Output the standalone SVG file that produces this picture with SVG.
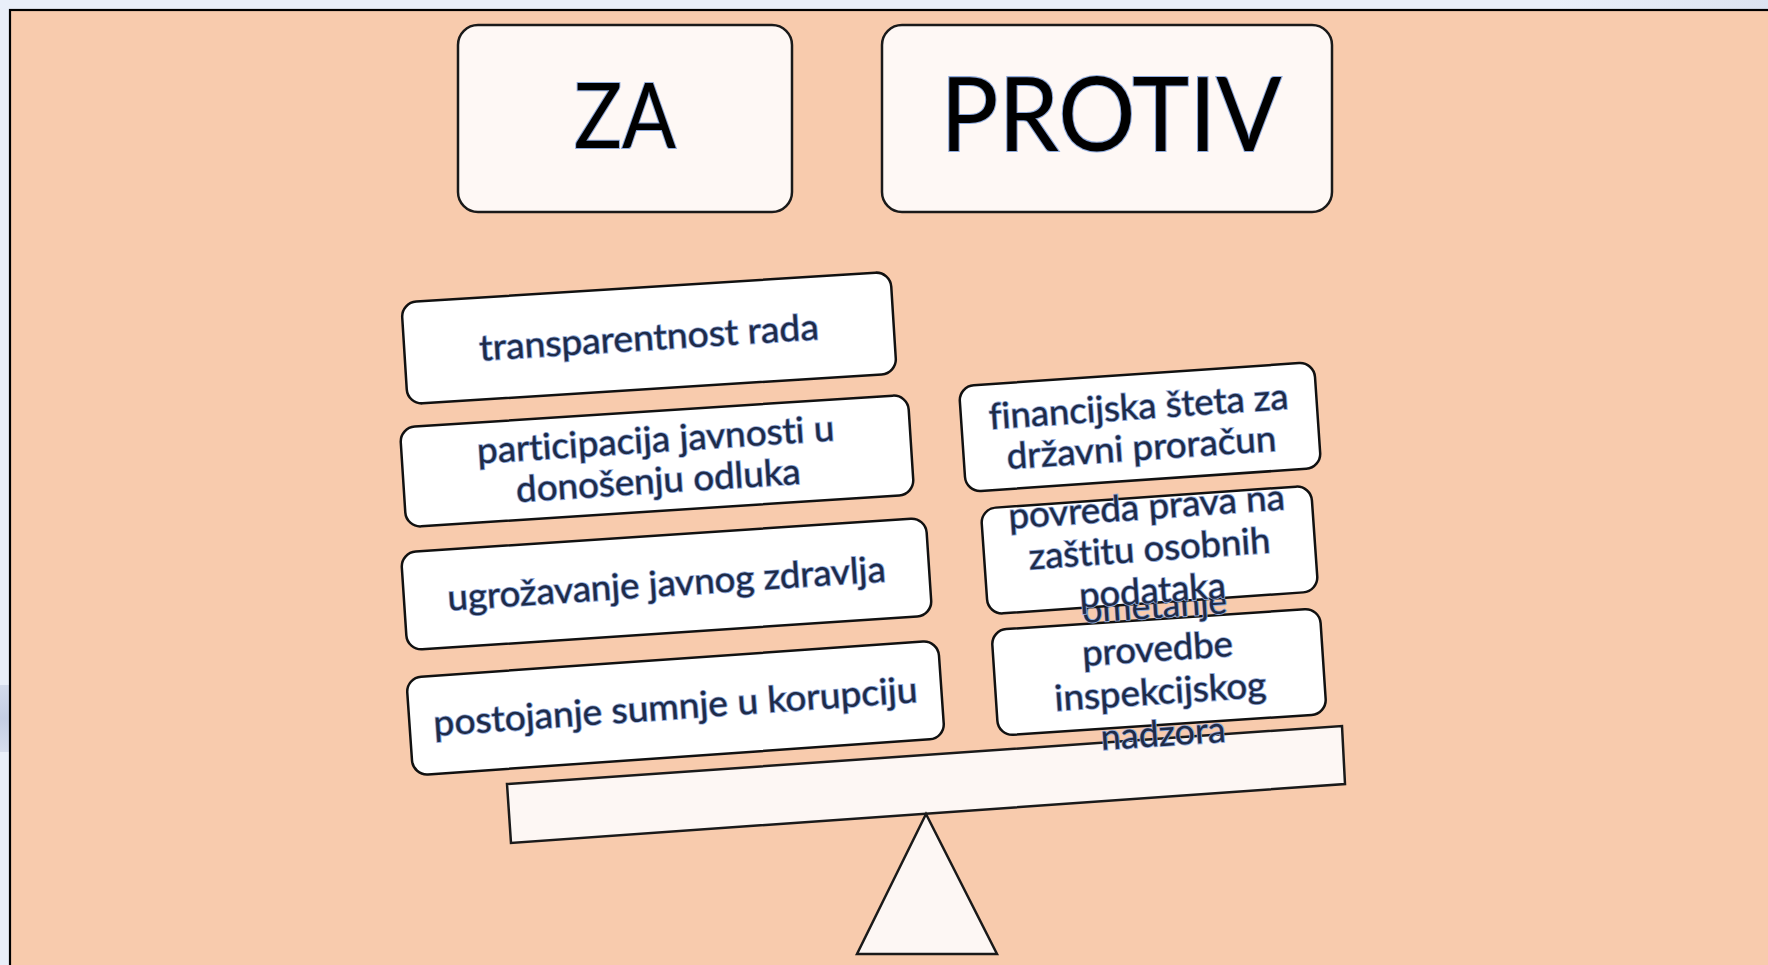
<svg xmlns="http://www.w3.org/2000/svg" width="1768" height="965" viewBox="0 0 1768 965">
  <defs>
    <linearGradient id="topbg" x1="0" y1="0" x2="1" y2="0">
      <stop offset="0" stop-color="#E9EFF9"/>
      <stop offset="0.88" stop-color="#E9EFF9"/>
      <stop offset="1" stop-color="#DCE3F0"/>
    </linearGradient>
    <linearGradient id="leftmark" x1="0" y1="0" x2="0" y2="1">
      <stop offset="0" stop-color="#D3DBEC"/>
      <stop offset="0.5" stop-color="#C4CEE3"/>
      <stop offset="1" stop-color="#D6DDED"/>
    </linearGradient>
  </defs>
  <style>
    .hdr { fill: #FEF8F5; stroke: #1a1a1a; stroke-width: 2.5; }
    .box { fill: #FFFFFF; stroke: #111111; stroke-width: 2.5; }
    .part { fill: #FDF7F4; stroke: #1a1a1a; stroke-width: 2.5; stroke-linejoin: miter; }
    .title { font-family: Lato, "Noto Sans", sans-serif; font-weight: 400; fill: #000000; stroke: #8FAADC; stroke-width: 2.2; paint-order: stroke; text-anchor: middle; }
    .lbl { font-family: Lato, "Noto Sans", sans-serif; font-weight: 400; font-size: 36px; font-variant-ligatures: none; font-feature-settings: "liga" 0, "clig" 0, "dlig" 0; fill: #1E2B48; stroke: #8FAADC; stroke-width: 1.7; paint-order: stroke; text-anchor: middle; }
  </style>

  <!-- background -->
  <rect x="0" y="0" width="1768" height="965" fill="url(#topbg)"/>
  <rect x="0" y="685" width="9" height="67" fill="url(#leftmark)"/>
  <rect x="10" y="10" width="1770" height="970" fill="#F8CBAD" stroke="#000000" stroke-width="2.2"/>

  <!-- headers -->
  <g id="node-za">
    <rect class="hdr" x="458" y="25" width="334" height="187" rx="20" ry="20"/>
    <text class="title" x="625" y="148" font-size="92" textLength="102" lengthAdjust="spacingAndGlyphs">ZA</text>
  </g>
  <g id="node-protiv">
    <rect class="hdr" x="882" y="25" width="450" height="187" rx="20" ry="20"/>
    <text class="title" x="1111" y="151" font-size="103" textLength="341" lengthAdjust="spacingAndGlyphs">PROTIV</text>
  </g>

  <!-- scale -->
  <g id="node-beam">
    <polygon class="part" points="507,784 1342,726 1345,784 511,843"/>
  </g>
  <g id="node-fulcrum">
    <polygon class="part" points="926,814 857,954 997,954"/>
  </g>

  <!-- ZA arguments -->
  <g id="node-za-1" transform="translate(649,338) rotate(-3.6)">
    <rect class="box" x="-245" y="-51" width="490" height="102" rx="15" ry="15"/>
    <text class="lbl" x="0" y="12" textLength="340" lengthAdjust="spacingAndGlyphs">transparentnost rada</text>
  </g>
  <g id="node-za-2" transform="translate(657,461) rotate(-3.7)">
    <rect class="box" x="-254.5" y="-50" width="509" height="100" rx="15" ry="15"/>
    <text class="lbl" x="0" y="-9" textLength="358" lengthAdjust="spacingAndGlyphs">participacija javnosti u</text>
    <text class="lbl" x="0" y="32" textLength="285" lengthAdjust="spacingAndGlyphs">donošenju odluka</text>
  </g>
  <g id="node-za-3" transform="translate(666.5,584) rotate(-3.8)">
    <rect class="box" x="-263" y="-49" width="526" height="98" rx="15" ry="15"/>
    <text class="lbl" x="0" y="12" textLength="439" lengthAdjust="spacingAndGlyphs">ugrožavanje javnog zdravlja</text>
  </g>
  <g id="node-za-4" transform="translate(675.5,708) rotate(-4)">
    <rect class="box" x="-266.5" y="-49" width="533" height="98" rx="15" ry="15"/>
    <text class="lbl" x="0" y="11" textLength="485" lengthAdjust="spacingAndGlyphs">postojanje sumnje u korupciju</text>
  </g>

  <!-- PROTIV arguments -->
  <g id="node-protiv-3" transform="translate(1159,672) rotate(-3.8)">
    <rect class="box" x="-164.5" y="-53" width="329" height="106" rx="15" ry="15"/>
    <text class="lbl" x="0" y="-54" textLength="145" lengthAdjust="spacingAndGlyphs">ometanje</text>
    <text class="lbl" x="0" y="-11" textLength="151" lengthAdjust="spacingAndGlyphs">provedbe</text>
    <text class="lbl" x="0" y="32" textLength="212" lengthAdjust="spacingAndGlyphs">inspekcijskog</text>
    <text class="lbl" x="0" y="74" textLength="125" lengthAdjust="spacingAndGlyphs">nadzora</text>
  </g>
  <g id="node-protiv-2" transform="translate(1149.5,550) rotate(-4)">
    <rect class="box" x="-165.5" y="-53" width="331" height="106" rx="15" ry="15"/>
    <text class="lbl" x="0" y="-31" textLength="277" lengthAdjust="spacingAndGlyphs">povreda prava na</text>
    <text class="lbl" x="0" y="11" textLength="242" lengthAdjust="spacingAndGlyphs">zaštitu osobnih</text>
    <text class="lbl" x="0" y="53" textLength="147" lengthAdjust="spacingAndGlyphs">podataka</text>
  </g>
  <g id="node-protiv-1" transform="translate(1140,427) rotate(-3.9)">
    <rect class="box" x="-178" y="-53" width="356" height="106" rx="15" ry="15"/>
    <text class="lbl" x="0" y="-8" textLength="300" lengthAdjust="spacingAndGlyphs">financijska šteta za</text>
    <text class="lbl" x="0" y="33" textLength="270" lengthAdjust="spacingAndGlyphs">državni proračun</text>
  </g>

  <g id="connectors"></g>
</svg>
